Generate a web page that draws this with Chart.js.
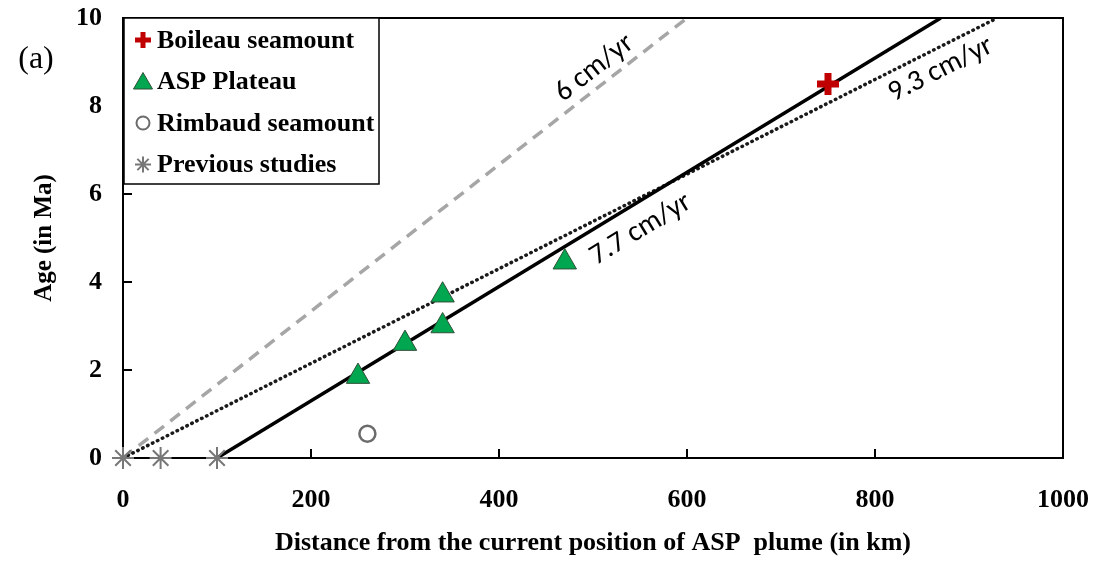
<!doctype html>
<html lang="en">
<head>
<meta charset="utf-8">
<title>Age vs distance from ASP plume</title>
<script src="https://cdn.jsdelivr.net/npm/chart.js@4.4.1/dist/chart.umd.min.js"></script>
<style>
  html, body { margin: 0; padding: 0; background: #fff; }
  #wrap { width: 1099px; height: 571px; }
</style>
</head>
<body>
<div id="wrap"><canvas id="myChart"></canvas></div>
<script>
// values
var boileau_x = [750];
var boileau_y = [8.5];
var asp_x = [250, 300, 340, 340, 470];
var asp_y = [1.85, 2.6, 3.7, 3.0, 4.45];
var rimbaud_x = [260];
var rimbaud_y = [0.55];
var prev_x = [0, 40, 100];
var prev_y = [0, 0, 0];

// rate lines, end points
var rate6_x = [0, 600];
var rate6_y = [0, 10];
var rate77_x = [100, 870];
var rate77_y = [0, 10];
var rate93_x = [0, 930];
var rate93_y = [0, 10];

var rateLabels = ['6 cm/yr', '7.7 cm/yr', '9.3 cm/yr'];
var legendLabels = ['Boileau seamount', 'ASP Plateau', 'Rimbaud seamount', 'Previous studies'];
var xTicks = [0, 200, 400, 600, 800, 1000];
var yTicks = [0, 2, 4, 6, 8, 10];

var serif = "'Liberation Serif', 'Times New Roman', serif";

function pts(xs, ys) {
  var out = [];
  for (var i = 0; i < xs.length; i++) out.push({x: xs[i], y: ys[i]});
  return out;
}

// where each rate label sits: distance along the line, and offset across it (px)
var labelAt = [{x: 513, off: -17}, {x: 537, off: 25}, {x: 860, off: 21}];
var rateLines = [[rate6_x, rate6_y], [rate77_x, rate77_y], [rate93_x, rate93_y]];

var legendStyles = [
  {pointStyle: 'cross', radius: 8, borderWidth: 5, fill: '#c00000', stroke: '#c00000'},
  {pointStyle: 'triangle', radius: 11, borderWidth: 1, fill: '#00a650', stroke: '#2f4f37'},
  {pointStyle: 'circle', radius: 6.5, borderWidth: 2, fill: '#fff', stroke: '#6b6b6b'},
  {pointStyle: 'star', radius: 8, borderWidth: 2, fill: '#777', stroke: '#777'}
];

var decor = {
  id: 'decor',
  beforeDatasetsDraw: function(chart) {
    var ctx = chart.ctx, a = chart.chartArea;
    var xs = chart.scales.x, ys = chart.scales.y;
    ctx.save();
    ctx.strokeStyle = '#000';
    ctx.lineWidth = 2;
    ctx.beginPath();
    ctx.moveTo(a.left, a.top); ctx.lineTo(a.right, a.top); ctx.lineTo(a.right, a.bottom);
    // inward tick marks
    xTicks.forEach(function(v) {
      var px = xs.getPixelForValue(v);
      ctx.moveTo(px, a.bottom); ctx.lineTo(px, a.bottom - 9);
    });
    yTicks.forEach(function(v) {
      var py = ys.getPixelForValue(v);
      ctx.moveTo(a.left, py); ctx.lineTo(a.left + 9, py);
    });
    ctx.stroke();
    ctx.restore();
  },
  afterDatasetsDraw: function(chart) {
    var ctx = chart.ctx, a = chart.chartArea;
    var xs = chart.scales.x, ys = chart.scales.y;
    ctx.save();

    // rate labels along the lines
    ctx.fillStyle = '#000';
    ctx.font = "29px Carlito, Lato, 'Open Sans', sans-serif";
    ctx.textAlign = 'center';
    ctx.textBaseline = 'middle';
    rateLines.forEach(function(ln, i) {
      var x0 = xs.getPixelForValue(ln[0][0]), y0 = ys.getPixelForValue(ln[1][0]);
      var x1 = xs.getPixelForValue(ln[0][1]), y1 = ys.getPixelForValue(ln[1][1]);
      var t = (labelAt[i].x - ln[0][0]) / (ln[0][1] - ln[0][0]);
      var yv = ln[1][0] + t * (ln[1][1] - ln[1][0]);
      var px = xs.getPixelForValue(labelAt[i].x), py = ys.getPixelForValue(yv);
      ctx.save();
      ctx.translate(px, py);
      ctx.rotate(Math.atan2(y1 - y0, x1 - x0));
      ctx.fillText(rateLabels[i], 0, labelAt[i].off);
      ctx.restore();
    });

    // legend box
    var lx = a.left + 1, ly = a.top, lw = 255, lh = 166;
    ctx.fillStyle = '#fff';
    ctx.fillRect(lx, ly, lw, lh);
    ctx.strokeStyle = '#000';
    ctx.lineWidth = 1.5;
    ctx.strokeRect(lx, ly, lw, lh);
    ctx.font = 'bold 26px ' + serif;
    ctx.textAlign = 'left';
    legendLabels.forEach(function(lab, i) {
      var cy = ly + 22 + i * 41.5;
      var st = legendStyles[i];
      ctx.fillStyle = st.fill;
      ctx.strokeStyle = st.stroke;
      ctx.lineWidth = st.borderWidth;
      Chart.helpers.drawPoint(ctx, {pointStyle: st.pointStyle, radius: st.radius, borderWidth: st.borderWidth, rotation: 0}, lx + 19, cy + (st.pointStyle === 'triangle' ? 2 : 0));
      ctx.fillStyle = '#000';
      ctx.fillText(lab, lx + 33, cy + 1);
    });

    // panel letter
    ctx.font = '32px ' + serif;
    ctx.textAlign = 'center';
    ctx.fillStyle = '#000';
    ctx.fillText('(a)', 36, 60);
    ctx.restore();
  }
};

var ctx = document.getElementById('myChart').getContext('2d');
var chart = new Chart(ctx, {
  type: 'scatter',
  data: {
    datasets: [
      {
        label: legendLabels[0], data: pts(boileau_x, boileau_y),
        pointStyle: 'cross', pointRadius: 11, pointBorderWidth: 7,
        borderColor: '#c00000', backgroundColor: '#c00000', clip: false
      },
      {
        label: legendLabels[1], data: pts(asp_x, asp_y),
        pointStyle: 'triangle', pointRadius: 13.5, pointBorderWidth: 1,
        borderColor: '#2f4f37', backgroundColor: '#00a650', clip: false
      },
      {
        label: legendLabels[2], data: pts(rimbaud_x, rimbaud_y),
        pointStyle: 'circle', pointRadius: 8, pointBorderWidth: 2.5,
        borderColor: '#6b6b6b', backgroundColor: '#fff', clip: false
      },
      {
        label: legendLabels[3], data: pts(prev_x, prev_y),
        pointStyle: 'star', pointRadius: 11, pointBorderWidth: 2,
        borderColor: '#777', backgroundColor: '#777', clip: false
      },
      {
        label: rateLabels[1], data: pts(rate77_x, rate77_y), showLine: true,
        pointRadius: 0, borderColor: '#000', borderWidth: 3.5
      },
      {
        label: rateLabels[2], data: pts(rate93_x, rate93_y), showLine: true,
        pointRadius: 0, borderColor: '#1a1a1a', borderWidth: 3.5,
        borderDash: [0.5, 5], borderCapStyle: 'round'
      },
      {
        label: rateLabels[0], data: pts(rate6_x, rate6_y), showLine: true,
        pointRadius: 0, borderColor: '#a6a6a6', borderWidth: 3.5, borderDash: [12, 8]
      }
    ]
  },
  options: {
    responsive: true,
    maintainAspectRatio: false,
    animation: false,
    layout: { padding: { top: 18, right: 36, left: 0, bottom: 0 }, autoPadding: false },
    plugins: { legend: { display: false }, tooltip: { enabled: false } },
    scales: {
      x: {
        type: 'linear', min: 0, max: 1000,
        afterFit: function(s) { s.height = 113; s.paddingLeft = 0; s.paddingRight = 0; },
        afterBuildTicks: function(s) { s.ticks = xTicks.map(function(v) { return {value: v}; }); },
        grid: { display: false, drawTicks: false },
        border: { display: true, color: '#000', width: 2 },
        ticks: {
          color: '#000', padding: 27, font: { family: serif, size: 26, weight: 'bold' },
          callback: function(v) { return String(v); }
        },
        title: {
          display: true, text: 'Distance from the current position of ASP  plume (in km)',
          color: '#000', padding: { top: 12, bottom: 12 },
          font: { family: serif, size: 26, weight: 'bold' }
        }
      },
      y: {
        type: 'linear', min: 0, max: 10,
        afterFit: function(s) { s.width = 123; s.paddingTop = 0; s.paddingBottom = 0; },
        afterBuildTicks: function(s) { s.ticks = yTicks.map(function(v) { return {value: v}; }); },
        grid: { display: false, drawTicks: false },
        border: { display: true, color: '#000', width: 2 },
        ticks: {
          color: '#000', padding: 21, font: { family: serif, size: 26, weight: 'bold' },
          callback: function(v) { return String(v); }
        },
        title: {
          display: true, text: 'Age (in Ma)', color: '#000',
          padding: { top: 30, bottom: 30 },
          font: { family: serif, size: 25, weight: 'bold' }
        }
      }
    }
  },
  plugins: [decor]
});
</script>
</body>
</html>
